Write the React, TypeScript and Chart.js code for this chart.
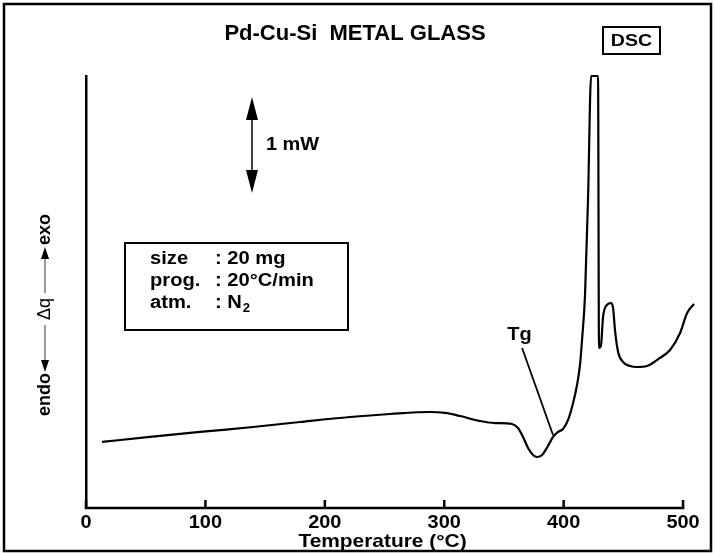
import React, { useEffect, useRef } from "react";
import { Chart, registerables } from "chart.js";

Chart.register(...registerables);

// Temperature (°C) of the DSC trace
const temperature = [
  13.4, 53.6, 95.5, 139.9, 179.2, 221.1, 254.6, 288.1, 300.7, 313.2, 330.0, 342.5,
  356.8, 361.8, 366.0, 370.2, 374.4, 377.7, 381.9, 386.9, 391.1, 395.3, 399.5, 403.7,
  407.9, 411.2, 413.7, 415.4, 417.9, 420.4, 423.0, 428.8, 429.6, 431.3, 433.0, 436.3,
  439.7, 441.4, 443.0, 445.6, 449.7, 455.6, 461.5, 469.8, 480.7, 489.1, 497.5, 503.4, 509.2,
];
// Heat flow (mW, arbitrary zero, exo up); peak truncated at the top of the plot
const heatFlow = [
  0.688, 0.740, 0.792, 0.844, 0.896, 0.948, 0.979, 1.000, 0.990, 0.958, 0.906, 0.885,
  0.875, 0.833, 0.740, 0.625, 0.552, 0.531, 0.552, 0.646, 0.740, 0.792, 0.823, 0.917,
  1.094, 1.281, 1.490, 1.750, 2.219, 3.208, 4.5, 4.5, 1.667, 1.698, 1.990, 2.115,
  2.135, 2.083, 1.854, 1.625, 1.521, 1.479, 1.469, 1.479, 1.563, 1.646, 1.823, 2.031, 2.125,
];
const xTickValues = [0, 100, 200, 300, 400, 500];
const xTickLabels = ["0", "100", "200", "300", "400", "500"];
const titleText = "Pd-Cu-Si  METAL GLASS";
const xAxisTitle = "Temperature (°C)";
const infoLabels = ["size", "prog.", "atm."];
const infoValues = [": 20 mg", ": 20°C/min", ": N"];
// scale bar: 1 mW placed at (T, mW)
const scaleBarT = 139;
const scaleBarTop = 4.28;
const scaleBarSize = 1;
// Tg annotation: label point and curve point (T, mW)
const tgLabelAt = [363, 1.80];
const tgLineFrom = [365.2, 1.667];
const tgLineTo = [391.1, 0.76];

const FONT = "'Liberation Sans', Arial, Helvetica, sans-serif";

function stretchText(
  ctx: CanvasRenderingContext2D,
  text: string,
  x: number,
  y: number,
  sx: number,
  align: CanvasTextAlign
) {
  ctx.save();
  ctx.translate(x, y);
  ctx.scale(sx, 1);
  ctx.textAlign = align;
  ctx.fillText(text, 0, 0);
  ctx.restore();
}

function drawArrowHead(ctx: CanvasRenderingContext2D, x: number, y: number, dir: number, len: number, half: number) {
  ctx.beginPath();
  ctx.moveTo(x, y);
  ctx.lineTo(x - half, y - dir * len);
  ctx.lineTo(x + half, y - dir * len);
  ctx.closePath();
  ctx.fill();
}

const decorPlugin = {
  id: "decor",
  afterDraw(chart: any) {
    const ctx: CanvasRenderingContext2D = chart.ctx;
    const xs = chart.scales.x;
    const ys = chart.scales.y;
    const ca = chart.chartArea;
    ctx.save();
    ctx.fillStyle = "#000";
    ctx.strokeStyle = "#000";

    // outer frame
    ctx.lineWidth = 2.5;
    ctx.strokeRect(4, 4, chart.width - 8, chart.height - 6);

    // x axis line (0..500) and inward ticks
    const x0 = xs.getPixelForValue(xTickValues[0]);
    const x1 = xs.getPixelForValue(xTickValues[xTickValues.length - 1]);
    ctx.lineWidth = 2.5;
    ctx.beginPath();
    ctx.moveTo(x0 - 1.25, ca.bottom);
    ctx.lineTo(x1 + 1.25, ca.bottom);
    ctx.stroke();
    xTickValues.forEach((v) => {
      const px = xs.getPixelForValue(v);
      ctx.beginPath();
      ctx.moveTo(px, ca.bottom);
      ctx.lineTo(px, ca.bottom - 8);
      ctx.stroke();
    });
    // tick labels
    ctx.font = `bold 19px ${FONT}`;
    ctx.textBaseline = "middle";
    xTickValues.forEach((v, i) => {
      stretchText(ctx, xTickLabels[i], xs.getPixelForValue(v), ca.bottom + 15, 1.05, "center");
    });
    // axis title
    stretchText(ctx, xAxisTitle, (x0 + x1) / 2 - 2, ca.bottom + 34, 1.1, "center");

    // title
    ctx.font = `bold 22px ${FONT}`;
    stretchText(ctx, titleText, 355, 34, 1.0, "center");

    // DSC box
    ctx.lineWidth = 2;
    ctx.strokeRect(603, 27, 57, 27);
    ctx.font = `bold 17px ${FONT}`;
    stretchText(ctx, "DSC", 631.5, 41, 1.15, "center");

    // 1 mW scale bar
    const bx = xs.getPixelForValue(scaleBarT);
    const by1 = ys.getPixelForValue(scaleBarTop);
    const by2 = ys.getPixelForValue(scaleBarTop - scaleBarSize);
    ctx.lineWidth = 1.5;
    ctx.beginPath();
    ctx.moveTo(bx, by1 + 20);
    ctx.lineTo(bx, by2 - 20);
    ctx.stroke();
    drawArrowHead(ctx, bx, by1, -1, 23, 6);
    drawArrowHead(ctx, bx, by2, 1, 23, 6);
    ctx.font = `bold 19px ${FONT}`;
    stretchText(ctx, "1 mW", bx + 14, (by1 + by2) / 2, 1.05, "left");

    // info box
    ctx.lineWidth = 2;
    ctx.strokeRect(125, 243, 223, 87);
    ctx.textBaseline = "alphabetic";
    ctx.font = `bold 18px ${FONT}`;
    infoLabels.forEach((lab, i) => {
      const yb = 264 + i * 22;
      stretchText(ctx, lab, 150, yb, 1.12, "left");
      stretchText(ctx, infoValues[i], 215, yb, 1.12, "left");
      if (i === 2) {
        const w = ctx.measureText(infoValues[i]).width * 1.12;
        ctx.font = `bold 12px ${FONT}`;
        stretchText(ctx, "2", 215 + w + 1, yb + 4, 1.1, "left");
        ctx.font = `bold 18px ${FONT}`;
      }
    });

    // Tg annotation
    ctx.textBaseline = "middle";
    ctx.font = `bold 19px ${FONT}`;
    stretchText(ctx, "Tg", xs.getPixelForValue(tgLabelAt[0]), ys.getPixelForValue(tgLabelAt[1]), 1.05, "center");
    ctx.lineWidth = 1.8;
    ctx.beginPath();
    ctx.moveTo(xs.getPixelForValue(tgLineFrom[0]), ys.getPixelForValue(tgLineFrom[1]));
    ctx.lineTo(xs.getPixelForValue(tgLineTo[0]), ys.getPixelForValue(tgLineTo[1]));
    ctx.stroke();

    // y label: endo <- Δq -> exo (rotated)
    ctx.save();
    ctx.translate(45, 311);
    ctx.rotate(-Math.PI / 2);
    ctx.textBaseline = "middle";
    ctx.font = `bold 18px ${FONT}`;
    ctx.textAlign = "right";
    ctx.fillText("endo", -62, 0);
    ctx.textAlign = "left";
    ctx.fillText("exo", 66, 0);
    ctx.font = `18px ${FONT}`;
    ctx.textAlign = "center";
    ctx.fillText("Δq", 2, 0);
    ctx.strokeStyle = "#555";
    ctx.lineWidth = 1.2;
    ctx.beginPath();
    ctx.moveTo(-50, 0);
    ctx.lineTo(-14, 0);
    ctx.moveTo(18, 0);
    ctx.lineTo(53, 0);
    ctx.stroke();
    ctx.beginPath();
    ctx.moveTo(-61, 0);
    ctx.lineTo(-49, -4);
    ctx.lineTo(-49, 4);
    ctx.closePath();
    ctx.fill();
    ctx.beginPath();
    ctx.moveTo(64, 0);
    ctx.lineTo(52, -4);
    ctx.lineTo(52, 4);
    ctx.closePath();
    ctx.fill();
    ctx.restore();

    ctx.restore();
  },
};

export default function App() {
  const ref = useRef<HTMLCanvasElement | null>(null);
  useEffect(() => {
    if (!ref.current) return;
    const chart = new Chart(ref.current, {
      type: "line",
      data: {
        datasets: [
          {
            data: temperature.map((t, i) => ({ x: t, y: heatFlow[i] })),
            borderColor: "#000",
            borderWidth: 2.2,
            pointRadius: 0,
            cubicInterpolationMode: "monotone",
            clip: false as any,
          },
        ],
      },
      options: {
        animation: false,
        responsive: false,
        devicePixelRatio: 1,
        layout: { padding: { left: 86, right: 20, top: 76, bottom: 0 } },
        plugins: { legend: { display: false }, tooltip: { enabled: false }, title: { display: false } },
        scales: {
          x: {
            type: "linear",
            min: 0,
            max: 510,
            afterFit: (s: any) => {
              s.height = 45;
            },
            grid: { display: false },
            border: { display: false },
            ticks: { display: false },
          },
          y: {
            type: "linear",
            min: 0,
            max: 4.5,
            afterFit: (s: any) => {
              s.width = 0;
            },
            grid: { display: true, drawOnChartArea: false, drawTicks: false },
            border: { display: true, color: "#000", width: 2.5 },
            ticks: { display: false },
          },
        },
      },
      plugins: [decorPlugin],
    } as any);
    return () => chart.destroy();
  }, []);
  return (
    <div style={{ position: "absolute", left: 0, top: 0, width: 715, height: 553, background: "#fff" }}>
      <canvas ref={ref} width={715} height={553} />
    </div>
  );
}
